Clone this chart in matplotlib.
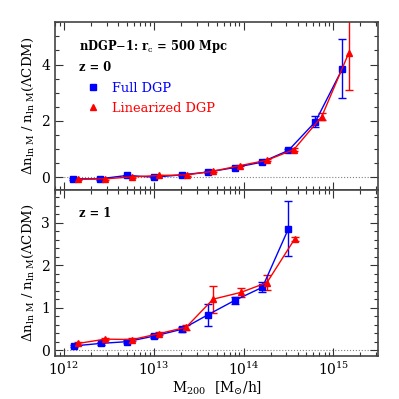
import numpy as np
import matplotlib
matplotlib.use("Agg")
import matplotlib.pyplot as plt
from matplotlib.lines import Line2D
from matplotlib.ticker import MultipleLocator, LogLocator, NullFormatter

plt.rcParams["font.family"] = "DejaVu Serif"
plt.rcParams["mathtext.fontset"] = "dejavuserif"

# z = 0 data (log10 M200, ratio, error)
logm_full_z0 = [12.10, 12.40, 12.70, 13.00, 13.31, 13.60, 13.90, 14.20, 14.50, 14.80, 15.10]
full_z0 = [-0.06, -0.06, 0.06, 0.00, 0.08, 0.18, 0.34, 0.53, 0.95, 1.97, 3.85]
full_z0_err = [0.03, 0.03, 0.03, 0.03, 0.03, 0.03, 0.03, 0.04, 0.06, 0.20, 1.05]

logm_lin_z0 = [12.16, 12.46, 12.76, 13.06, 13.37, 13.66, 13.96, 14.26, 14.56, 14.87, 15.17]
lin_z0 = [-0.08, -0.06, 0.01, 0.06, 0.08, 0.21, 0.41, 0.60, 0.98, 2.15, 4.40]
lin_z0_err = [0.03, 0.03, 0.03, 0.03, 0.03, 0.03, 0.03, 0.04, 0.06, 0.13, 1.30]

# z = 1 data
logm_full_z1 = [12.11, 12.41, 12.70, 13.00, 13.31, 13.60, 13.90, 14.21, 14.50]
full_z1 = [0.10, 0.16, 0.20, 0.33, 0.49, 0.83, 1.17, 1.48, 2.86]
full_z1_err = [0.03, 0.03, 0.03, 0.04, 0.06, 0.25, 0.09, 0.12, 0.65]

logm_lin_z1 = [12.16, 12.46, 12.76, 13.06, 13.36, 13.66, 13.97, 14.26, 14.57]
lin_z1 = [0.16, 0.26, 0.25, 0.39, 0.54, 1.20, 1.36, 1.59, 2.62]
lin_z1_err = [0.03, 0.03, 0.03, 0.04, 0.06, 0.32, 0.10, 0.18, 0.05]

blue = "#0000ff"
red = "#ff0000"

fig = plt.figure(figsize=(3.99, 3.99), dpi=100)
ax0 = fig.add_axes([0.138, 0.525, 0.810, 0.419])
ax1 = fig.add_axes([0.138, 0.1085, 0.810, 0.4165])

panels = [
    (ax0, logm_full_z0, full_z0, full_z0_err, logm_lin_z0, lin_z0, lin_z0_err),
    (ax1, logm_full_z1, full_z1, full_z1_err, logm_lin_z1, lin_z1, lin_z1_err),
]

for ax, xf, yf, ef, xl, yl, el in panels:
    ax.set_xscale("log")
    ax.axhline(0, color="gray", ls=":", lw=0.8, zorder=0)
    ax.errorbar(10 ** np.array(xf), yf, yerr=ef, color=blue, marker="s", ms=4.3,
                lw=1.0, capsize=3, elinewidth=1.0, capthick=1.0)
    ax.errorbar(10 ** np.array(xl), yl, yerr=el, color=red, marker="^", ms=5,
                lw=1.0, capsize=3, elinewidth=1.0, capthick=1.0)
    ax.set_xlim(10 ** 11.9, 10 ** 15.5)
    ax.xaxis.set_major_locator(LogLocator(base=10, numticks=10))
    ax.xaxis.set_minor_locator(LogLocator(base=10, subs=np.arange(2, 10), numticks=20))
    ax.xaxis.set_minor_formatter(NullFormatter())
    ax.tick_params(which="both", direction="in", top=True, right=True, labelsize=10,
                   color="#333333")
    ax.tick_params(which="major", length=6, width=0.8)
    ax.tick_params(which="minor", length=3, width=0.8)
    for s in ax.spines.values():
        s.set_color("#444444")
        s.set_linewidth(1.2)
    ax.set_ylabel(r"$\Delta{\rm n}_{\rm ln\ M}\ /\ {\rm n}_{\rm ln\ M}(\Lambda{\rm CDM})$",
                  fontsize=9.5)

ax0.set_ylim(-0.44, 5.5)
ax0.yaxis.set_major_locator(MultipleLocator(2))
ax0.yaxis.set_minor_locator(MultipleLocator(0.5))
ax0.tick_params(labelbottom=False)

ax1.set_ylim(-0.13, 3.78)
ax1.yaxis.set_major_locator(MultipleLocator(1))
ax1.yaxis.set_minor_locator(MultipleLocator(0.2))
ax1.set_xlabel(r"${\rm M}_{200}\ \ [{\rm M}_{\odot}/{\rm h}]$", fontsize=10, labelpad=1)

ax0.text(0.074, 0.834, r"nDGP$-$1: r$_{\rm c}$ = 500 Mpc", transform=ax0.transAxes,
         fontsize=8.3, fontweight="bold")
ax0.text(0.074, 0.71, "z = 0", transform=ax0.transAxes, fontsize=8.3, fontweight="bold")
ax1.text(0.074, 0.836, "z = 1", transform=ax1.transAxes, fontsize=8.3, fontweight="bold")

handles = [Line2D([], [], color=blue, marker="s", ls="none", ms=4.3),
           Line2D([], [], color=red, marker="^", ls="none", ms=5)]
leg = ax0.legend(handles, ["Full DGP", "Linearized DGP"], loc="upper left",
                 bbox_to_anchor=(0.06, 0.715), frameon=False, fontsize=9.4,
                 handlelength=1.0, handletextpad=1.0, labelspacing=0.55,
                 labelcolor=[blue, red])

fig.savefig("out.png", dpi=100)
